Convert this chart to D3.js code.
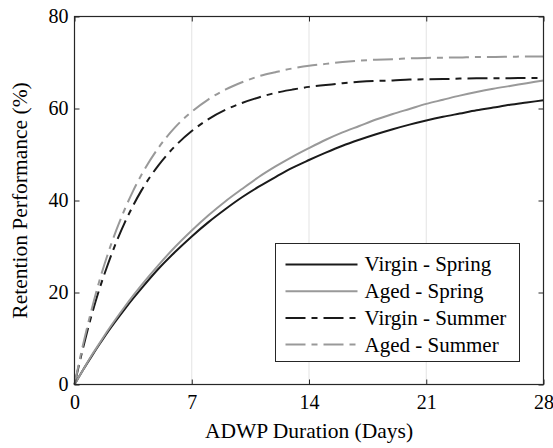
<!DOCTYPE html>
<meta charset="utf-8">
<script src="https://d3js.org/d3.v7.js"></script>
<div id="my_dataviz"></div>
<script>

// days sampled along the curves
const days = [0, 0.5, 1, 1.5, 2, 2.5, 3, 3.5, 4, 5, 6, 7, 8, 9, 10, 11, 12, 13, 14,
  15, 16, 17, 18, 19, 20, 21, 22, 23, 24, 25, 26, 27, 28];

// retention performance (%)
const virginSpring = [0, 3.1, 6.0, 8.8, 11.5, 14.0, 16.4, 18.7, 20.9, 25.1, 28.8, 32.2, 35.3, 38.1, 40.7, 43.0, 45.1, 47.1, 48.8,
  50.4, 51.9, 53.2, 54.4, 55.5, 56.5, 57.4, 58.2, 58.9, 59.6, 60.2, 60.8, 61.3, 61.8];
const agedSpring = [0, 3.1, 6.2, 9.0, 11.8, 14.4, 16.9, 19.3, 21.6, 25.9, 29.9, 33.5, 36.8, 39.8, 42.5, 45.1, 47.4, 49.5, 51.4,
  53.2, 54.8, 56.2, 57.6, 58.8, 59.9, 61.0, 61.9, 62.8, 63.6, 64.3, 64.9, 65.5, 66.1];
const virginSummer = [0, 7.8, 14.8, 20.9, 26.2, 31.0, 35.2, 38.9, 42.2, 47.6, 51.8, 55.1, 57.7, 59.7, 61.2, 62.4, 63.4, 64.1, 64.7,
  65.1, 65.5, 65.8, 66.0, 66.1, 66.3, 66.35, 66.4, 66.5, 66.55, 66.6, 66.6, 66.65, 66.65];
const agedSummer = [0, 8.5, 16.0, 22.7, 28.5, 33.6, 38.1, 42.1, 45.6, 51.4, 55.9, 59.3, 62.0, 64.1, 65.7, 67.0, 67.9, 68.7, 69.3,
  69.7, 70.1, 70.4, 70.6, 70.7, 70.9, 71.0, 71.05, 71.1, 71.2, 71.2, 71.25, 71.3, 71.3];

const seriesNames = ["Virgin - Spring", "Aged - Spring", "Virgin - Summer", "Aged - Summer"];
const xTicks = [0, 7, 14, 21, 28];
const yTicks = [0, 20, 40, 60, 80];

const dashDot = "20,6,6,6";
const series = [
  {name: seriesNames[0], values: virginSpring, color: "#1a1a1a", dash: null},
  {name: seriesNames[1], values: agedSpring, color: "#999999", dash: null},
  {name: seriesNames[2], values: virginSummer, color: "#1a1a1a", dash: dashDot},
  {name: seriesNames[3], values: agedSummer, color: "#999999", dash: dashDot}
];

const margin = {top: 16, right: 10, bottom: 64, left: 74},
    width = 553 - margin.left - margin.right,
    height = 448 - margin.top - margin.bottom;

d3.select("body").style("margin", "0px");

const root = d3.select("#my_dataviz")
  .append("svg")
    .attr("width", width + margin.left + margin.right)
    .attr("height", height + margin.top + margin.bottom)
    .attr("font-family", "Liberation Serif");

const svg = root.append("g")
    .attr("transform", `translate(${margin.left + 0.5},${margin.top + 0.5})`);

const x = d3.scaleLinear().domain([0, 28]).range([0, width]);
const y = d3.scaleLinear().domain([0, 80]).range([height, 0]);

// vertical grid
svg.append("g")
  .selectAll("line")
  .data(xTicks.slice(1, -1))
  .join("line")
    .attr("x1", d => x(d)).attr("x2", d => x(d))
    .attr("y1", 0).attr("y2", height)
    .attr("stroke", "#e3e3e3")
    .attr("stroke-width", 1);

// curves
const line = d3.line()
  .x((d, i) => x(days[i]))
  .y(d => y(d))
  .curve(d3.curveMonotoneX);

svg.append("g")
  .selectAll("path")
  .data(series)
  .join("path")
    .attr("d", d => line(d.values))
    .attr("fill", "none")
    .attr("stroke", d => d.color)
    .attr("stroke-width", 2)
    .attr("stroke-dasharray", d => d.dash);

// axes with inward ticks
function styleAxis(g) {
  g.attr("font-family", "Liberation Serif").attr("font-size", 20);
  g.select(".domain").remove();
  g.selectAll(".tick line").attr("stroke", "#262626");
  g.selectAll(".tick text").attr("fill", "#000");
}

svg.append("g")
  .attr("transform", `translate(0,${height})`)
  .call(d3.axisBottom(x).tickValues(xTicks).tickSize(-5).tickPadding(10))
  .call(styleAxis);
svg.append("g")
  .call(d3.axisTop(x).tickValues(xTicks).tickSize(-5).tickFormat(""))
  .call(styleAxis);
svg.append("g")
  .call(d3.axisLeft(y).tickValues(yTicks).tickSize(-5).tickPadding(6))
  .call(styleAxis);
svg.append("g")
  .attr("transform", `translate(${width},0)`)
  .call(d3.axisRight(y).tickValues(yTicks).tickSize(-5).tickFormat(""))
  .call(styleAxis);

svg.append("rect")
  .attr("width", width).attr("height", height)
  .attr("fill", "none")
  .attr("stroke", "#262626")
  .attr("stroke-width", 1.2);

// axis titles
svg.append("text")
  .attr("x", width / 2)
  .attr("y", height + 53)
  .attr("text-anchor", "middle")
  .attr("font-size", 21.5)
  .text("ADWP Duration (Days)");

svg.append("text")
  .attr("transform", `translate(${-47.5},${height / 2}) rotate(-90)`)
  .attr("text-anchor", "middle")
  .attr("font-size", 21.5)
  .text("Retention Performance (%)");

// legend
const lg = svg.append("g").attr("transform", `translate(${275 - margin.left},${243 - margin.top})`);
lg.append("rect")
  .attr("width", 244).attr("height", 118)
  .attr("fill", "#fff")
  .attr("stroke", "#262626")
  .attr("stroke-width", 1);

const item = lg.selectAll(".item")
  .data(series)
  .join("g")
    .attr("class", "item")
    .attr("transform", (d, i) => `translate(0,${21 + i * 26.7})`);
item.append("line")
  .attr("x1", 10).attr("x2", 82)
  .attr("stroke", d => d.color)
  .attr("stroke-width", 2)
  .attr("stroke-dasharray", d => d.dash);
item.append("text")
  .attr("x", 89)
  .attr("dy", "0.33em")
  .attr("font-size", 21)
  .text(d => d.name);

</script>
